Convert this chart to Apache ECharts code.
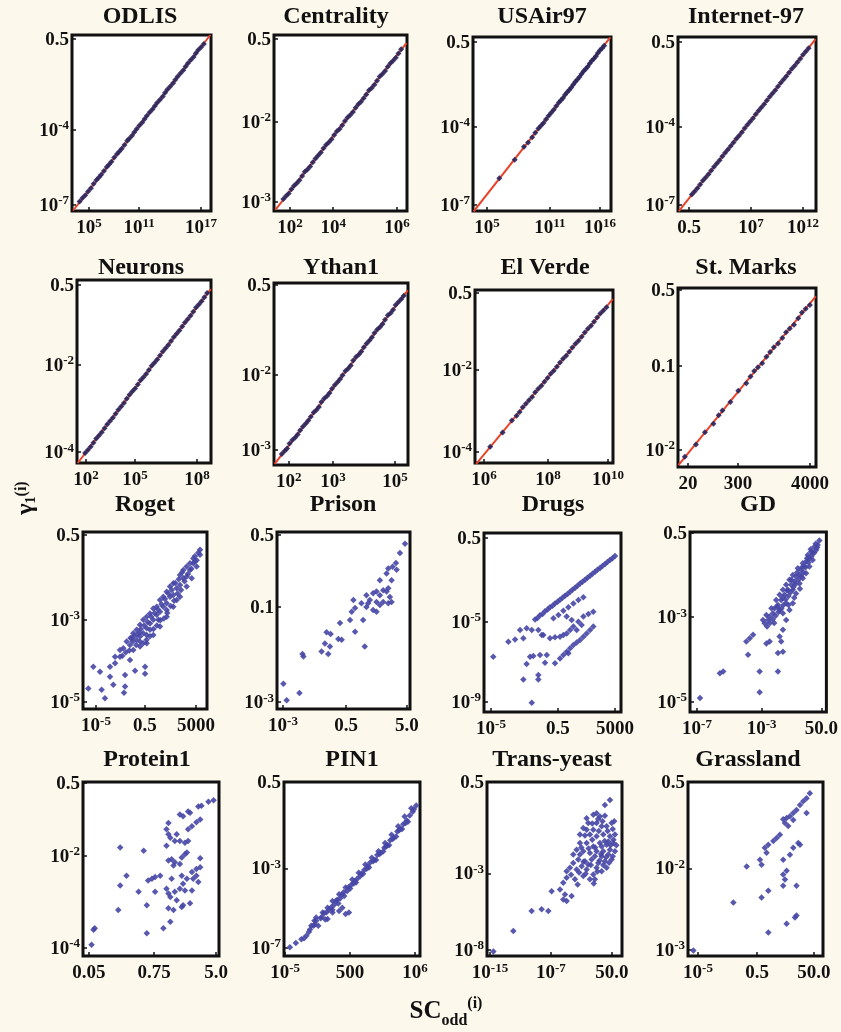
<!DOCTYPE html>
<html>
<head>
<meta charset="utf-8">
<script src="https://cdn.jsdelivr.net/npm/echarts/dist/echarts.min.js"></script>
<style>
html,body{margin:0;padding:0;background:#fcf9ec;}
#c{width:841px;height:1032px;}
</style>
</head>
<body>
<div id="c"></div>
<script>
// ---------- DATA (values are log10 of SC_odd(i) [x] and of gamma_1(i) [y]) ----------
const titles = ['ODLIS','Centrality','USAir97','Internet-97','Neurons','Ythan1','El Verde','St. Marks',
                'Roget','Prison','Drugs','GD','Protein1','PIN1','Trans-yeast','Grassland'];

// tick labels: [axis position, label]
const odlisXTicks = [[5,'10^5'],[10.36,'10^11'],[17,'10^17']];
const odlisYTicks = [[-7,'10^-7'],[-3.97,'10^-4'],[-0.3,'0.5']];
const centralityXTicks = [[2,'10^2'],[3.61,'10^4'],[6,'10^6']];
const centralityYTicks = [[-3,'10^-3'],[-1.675,'10^-2'],[-0.3,'0.5']];
const usairXTicks = [[5,'10^5'],[11.13,'10^11'],[16,'10^16']];
const usairYTicks = [[-7,'10^-7'],[-3.79,'10^-4'],[-0.3,'0.5']];
const internetXTicks = [[-0.3,'0.5'],[6.39,'10^7'],[12,'10^12']];
const internetYTicks = [[-7,'10^-7'],[-3.79,'10^-4'],[-0.3,'0.5']];
const neuronsXTicks = [[2,'10^2'],[4.65,'10^5'],[8,'10^8']];
const neuronsYTicks = [[-4,'10^-4'],[-2.07,'10^-2'],[-0.3,'0.5']];
const ythanXTicks = [[2,'10^2'],[3.25,'10^3'],[5,'10^5']];
const ythanYTicks = [[-3,'10^-3'],[-1.77,'10^-2'],[-0.3,'0.5']];
const elverdeXTicks = [[6,'10^6'],[8.06,'10^8'],[10,'10^10']];
const elverdeYTicks = [[-4,'10^-4'],[-2.09,'10^-2'],[-0.3,'0.5']];
const stmarksXTicks = [[1.301,'20'],[2.245,'300'],[3.602,'4000']];
const stmarksYTicks = [[-2,'10^-2'],[-1.109,'0.1'],[-0.301,'0.5']];
const rogetXTicks = [[-5,'10^-5'],[-0.74,'0.5'],[3.699,'5000']];
const rogetYTicks = [[-5,'10^-5'],[-2.69,'10^-3'],[-0.301,'0.5']];
const prisonXTicks = [[-3,'10^-3'],[-1.12,'0.5'],[0.699,'5.0']];
const prisonYTicks = [[-3,'10^-3'],[-1.465,'0.1'],[-0.301,'0.5']];
const drugsXTicks = [[-5,'10^-5'],[-0.3,'0.5'],[3.699,'5000']];
const drugsYTicks = [[-9,'10^-9'],[-4.76,'10^-5'],[-0.301,'0.5']];
const gdXTicks = [[-7,'10^-7'],[-2.48,'10^-3'],[1.699,'50.0']];
const gdYTicks = [[-5,'10^-5'],[-2.64,'10^-3'],[-0.301,'0.5']];
const protein1XTicks = [[-1.301,'0.05'],[-0.277,'0.75'],[0.699,'5.0']];
const protein1YTicks = [[-4,'10^-4'],[-1.94,'10^-2'],[-0.301,'0.5']];
const pin1XTicks = [[-5,'10^-5'],[0.5,'500'],[6,'10^6']];
const pin1YTicks = [[-7,'10^-7'],[-3.79,'10^-3'],[-0.301,'0.5']];
const transXTicks = [[-15,'10^-15'],[-6.66,'10^-7'],[1.699,'50.0']];
const transYTicks = [[-8,'10^-8'],[-4.49,'10^-3'],[-0.301,'0.5']];
const grassXTicks = [[-5,'10^-5'],[-1.59,'0.5'],[1.699,'50.0']];
const grassYTicks = [[-3,'10^-3'],[-1.69,'10^-2'],[-0.301,'0.5']];

// axis ranges [min,max]
const xRanges = [[3.18,18.07],[1.40,6.37],[3.64,17.07],[-1.49,13.40],[1.51,8.76],[1.58,5.37],[5.71,10.16],[1.112,3.715],
                 [-6.13,4.66],[-3.18,0.79],[-5.49,4.12],[-7.49,2.05],[-1.395,0.746],[-5.1,6.42],[-15.41,3.07],[-5.58,2.22]];
const yRanges = [[-7.24,-0.14],[-3.149,-0.234],[-7.25,-0.09],[-7.25,-0.09],[-4.24,-0.19],[-3.25,-0.27],[-4.26,-0.23],[-2.18,-0.28],
                 [-5.20,-0.217],[-3.11,-0.25],[-9.53,-0.036],[-5.28,-0.27],[-4.18,-0.28],[-7.32,-0.3],[-8.27,-0.3],[-3.10,-0.3]];

// fitted lines (top two rows)
const odlisFit = [[3.3,-7.22],[18.0,-0.14]];
const centralityFit = [[1.45,-3.13],[6.35,-0.37]];
const usairFit = [[3.7,-7.27],[17.0,-0.11]];
const internetFit = [[-1.4,-7.26],[13.35,-0.18]];
const neuronsFit = [[1.55,-4.24],[8.75,-0.39]];
const ythanFit = [[1.6,-3.23],[5.36,-0.39]];
const elverdeFit = [[5.75,-4.28],[10.15,-0.44]];
const stmarksFit = [[1.12,-2.16],[3.71,-0.37]];

const odlisPts = [[4.0,-6.86],[4.3,-6.72],[4.6,-6.60],[4.9,-6.45],[5.2,-6.32],[5.5,-6.14],[5.8,-5.99],[6.05,-5.89],[6.3,-5.78],[6.6,-5.63],[6.9,-5.46],[7.15,-5.36],[7.4,-5.25],[7.7,-5.08],[8.0,-4.94],[8.25,-4.84],[8.5,-4.73],[8.8,-4.58],[9.1,-4.41],[9.3,-4.33],[9.6,-4.20],[9.85,-4.06],[10.1,-3.93],[10.4,-3.79],[10.7,-3.67],[10.95,-3.53],[11.2,-3.40],[11.5,-3.26],[11.8,-3.14],[12.05,-3.00],[12.3,-2.87],[12.6,-2.75],[12.9,-2.62],[13.15,-2.47],[13.4,-2.34],[13.7,-2.22],[14.0,-2.09],[14.25,-1.95],[14.5,-1.81],[14.8,-1.68],[15.1,-1.56],[15.35,-1.41],[15.6,-1.28],[15.9,-1.15],[16.2,-1.03],[16.45,-0.88],[16.7,-0.75],[17.0,-0.63],[17.3,-0.50]];
const centralityPts = [[1.75,-2.95],[1.85,-2.90],[1.95,-2.86],[2.05,-2.79],[2.15,-2.73],[2.25,-2.69],[2.35,-2.64],[2.45,-2.57],[2.55,-2.50],[2.65,-2.46],[2.75,-2.41],[2.85,-2.34],[2.95,-2.28],[3.05,-2.23],[3.15,-2.18],[3.25,-2.11],[3.35,-2.05],[3.45,-2.01],[3.55,-1.96],[3.65,-1.89],[3.75,-1.83],[3.85,-1.79],[3.95,-1.73],[4.05,-1.66],[4.15,-1.60],[4.25,-1.56],[4.35,-1.51],[4.45,-1.44],[4.55,-1.38],[4.65,-1.34],[4.75,-1.28],[4.85,-1.22],[4.95,-1.15],[5.05,-1.11],[5.15,-1.06],[5.25,-0.99],[5.35,-0.92],[5.45,-0.88],[5.55,-0.83],[5.65,-0.76],[5.75,-0.70],[5.85,-0.66],[5.95,-0.61],[6.05,-0.54],[6.15,-0.47]];
const usairPts = [[6.2,-5.90],[7.7,-5.14],[8.6,-4.61],[9.0,-4.43],[9.4,-4.22],[9.7,-4.03],[10.0,-3.86],[10.25,-3.74],[10.5,-3.63],[10.75,-3.47],[11.0,-3.33],[11.25,-3.21],[11.5,-3.08],[11.75,-2.93],[12.0,-2.79],[12.2,-2.69],[12.4,-2.60],[12.6,-2.47],[12.8,-2.36],[13.0,-2.27],[13.2,-2.17],[13.4,-2.04],[13.6,-1.93],[13.8,-1.84],[14.0,-1.74],[14.2,-1.61],[14.4,-1.50],[14.6,-1.41],[14.8,-1.31],[15.0,-1.18],[15.2,-1.07],[15.4,-0.98],[15.6,-0.88],[15.8,-0.75],[16.0,-0.64],[16.2,-0.55],[16.4,-0.45]];
const internetPts = [[0.0,-6.57],[0.3,-6.45],[0.6,-6.31],[0.9,-6.16],[1.2,-6.00],[1.5,-5.87],[1.8,-5.74],[2.1,-5.58],[2.4,-5.43],[2.7,-5.30],[3.0,-5.16],[3.3,-5.00],[3.6,-4.85],[3.9,-4.72],[4.2,-4.58],[4.5,-4.43],[4.8,-4.28],[5.1,-4.15],[5.4,-4.01],[5.7,-3.85],[6.0,-3.70],[6.3,-3.57],[6.6,-3.43],[6.9,-3.27],[7.2,-3.12],[7.5,-2.99],[7.8,-2.86],[8.1,-2.70],[8.4,-2.55],[8.7,-2.42],[9.0,-2.28],[9.3,-2.13],[9.6,-1.97],[9.9,-1.84],[10.2,-1.70],[10.5,-1.55],[10.8,-1.40],[11.1,-1.27],[11.4,-1.13],[11.7,-0.98],[12.0,-0.82],[12.3,-0.69],[12.6,-0.55]];
const neuronsPts = [[1.95,-4.02],[2.1,-3.95],[2.25,-3.88],[2.4,-3.79],[2.55,-3.70],[2.7,-3.63],[2.85,-3.56],[3.0,-3.47],[3.15,-3.38],[3.3,-3.31],[3.45,-3.24],[3.6,-3.15],[3.75,-3.06],[3.9,-2.99],[4.05,-2.91],[4.2,-2.82],[4.35,-2.73],[4.5,-2.66],[4.65,-2.59],[4.8,-2.50],[4.95,-2.41],[5.1,-2.34],[5.25,-2.27],[5.4,-2.18],[5.55,-2.09],[5.7,-2.02],[5.85,-1.95],[6.0,-1.86],[6.15,-1.77],[6.3,-1.70],[6.45,-1.63],[6.6,-1.54],[6.75,-1.45],[6.9,-1.38],[7.05,-1.31],[7.2,-1.22],[7.35,-1.13],[7.5,-1.06],[7.65,-0.98],[7.8,-0.89],[7.95,-0.80],[8.1,-0.73],[8.25,-0.66],[8.4,-0.57],[8.55,-0.48]];
const ythanPts = [[1.8,-3.07],[1.88,-3.02],[1.95,-2.98],[2.02,-2.90],[2.1,-2.84],[2.18,-2.80],[2.25,-2.75],[2.32,-2.68],[2.4,-2.62],[2.48,-2.57],[2.55,-2.52],[2.62,-2.46],[2.7,-2.39],[2.78,-2.35],[2.85,-2.30],[2.92,-2.22],[3.0,-2.16],[3.08,-2.12],[3.15,-2.07],[3.22,-2.00],[3.3,-1.94],[3.38,-1.89],[3.45,-1.84],[3.52,-1.78],[3.6,-1.71],[3.68,-1.67],[3.75,-1.62],[3.82,-1.54],[3.9,-1.48],[3.98,-1.44],[4.05,-1.39],[4.12,-1.32],[4.2,-1.26],[4.28,-1.21],[4.35,-1.16],[4.42,-1.09],[4.5,-1.03],[4.58,-0.99],[4.65,-0.94],[4.72,-0.87],[4.8,-0.80],[4.88,-0.76],[4.95,-0.71],[5.02,-0.63],[5.1,-0.58],[5.18,-0.53],[5.25,-0.48]];
const elverdePts = [[6.2,-3.88],[6.6,-3.55],[6.9,-3.27],[7.05,-3.16],[7.15,-3.07],[7.25,-2.96],[7.35,-2.88],[7.45,-2.80],[7.55,-2.72],[7.65,-2.61],[7.75,-2.53],[7.85,-2.46],[7.95,-2.37],[8.05,-2.28],[8.15,-2.18],[8.25,-2.11],[8.35,-2.02],[8.45,-1.92],[8.55,-1.83],[8.65,-1.76],[8.75,-1.67],[8.85,-1.57],[8.95,-1.48],[9.05,-1.41],[9.15,-1.32],[9.25,-1.22],[9.35,-1.13],[9.45,-1.06],[9.55,-0.97],[9.65,-0.87],[9.75,-0.78],[9.85,-0.71],[9.95,-0.63]];
const stmarksPts = [[1.24,-2.07],[1.45,-1.94],[1.62,-1.81],[1.78,-1.72],[1.88,-1.63],[1.95,-1.58],[2.1,-1.49],[2.25,-1.37],[2.4,-1.29],[2.48,-1.22],[2.55,-1.16],[2.62,-1.12],[2.7,-1.08],[2.78,-1.01],[2.85,-0.96],[2.92,-0.91],[3.0,-0.87],[3.08,-0.81],[3.15,-0.75],[3.22,-0.71],[3.3,-0.67],[3.38,-0.60],[3.45,-0.54],[3.52,-0.50],[3.6,-0.46]];

const rogetPts = [[4.05,-0.72],[3.47,-0.96],[2.89,-1.19],[2.31,-1.43],[1.73,-1.66],[1.15,-1.90],[0.57,-2.13],[-0.01,-2.37],[-0.59,-2.60],[-1.17,-2.83],[-1.75,-3.07],[-2.33,-3.30],[-2.91,-3.54],[-3.34,-3.73],[-3.78,-4.01],
 [4.05,-0.86],[3.76,-1.19],[3.33,-1.52],[2.89,-1.75],[2.31,-2.04],[1.73,-2.32],[1.15,-2.60],[0.57,-2.88],[-0.01,-3.12],[-0.59,-3.35],[-1.17,-3.44],[-1.75,-3.54],
 [3.76,-1.01],[3.18,-1.29],[2.60,-1.52],[2.02,-1.80],[1.44,-2.04],[0.86,-2.32],[0.28,-2.55],[-0.30,-2.79],[-0.88,-3.07],[-1.46,-3.26],[-2.04,-3.40],[-2.62,-3.49],
 [2.89,-1.47],[2.31,-1.71],[1.73,-1.99],[1.15,-2.22],[0.57,-2.46],[-0.01,-2.69],[-0.59,-2.93],[-1.17,-3.16],[3.47,-1.10],[0.28,-2.32],[-0.30,-2.51],[-0.88,-2.69],[-1.46,-2.97],[-1.89,-3.21],
 [1.44,-1.75],[0.86,-2.04],[2.02,-2.13],[1.15,-2.41],[-0.30,-2.97],[0.43,-2.69],[2.60,-1.29],[3.18,-1.10],[-1.17,-3.30],[-0.59,-3.12],
 [3.9,-0.80],[3.6,-1.05],[3.3,-1.25],[3.0,-1.40],[2.7,-1.60],[2.4,-1.85],[2.1,-1.95],[1.8,-2.15],[1.5,-2.30],[1.2,-2.50],[0.9,-2.65],[0.6,-2.70],[0.3,-2.85],[0.0,-2.95],[-0.3,-3.15],[-0.6,-3.25],[-0.9,-3.35],[-1.2,-3.05],[-1.5,-3.40],[-1.8,-3.30],[-2.1,-3.55],[-2.4,-3.60],[-2.7,-3.70],
 [3.6,-0.90],[2.2,-1.55],[1.6,-1.85],[1.0,-2.10],[0.4,-2.40],[-0.2,-2.60],[-0.8,-2.85],[-1.4,-3.10],[-2.0,-3.20],[2.5,-1.35],[1.9,-1.65],[1.3,-1.95],[0.7,-2.25],[0.1,-2.50],[-0.5,-2.75],[-1.1,-2.95],[-1.7,-3.15],
 [-3.34,-3.91],[-2.47,-4.24],[-1.60,-4.12],[-0.73,-4.01],[-0.73,-4.21],[-3.78,-4.29],[-4.65,-4.15],[-5.23,-4.01],[-4.51,-4.66],[-3.49,-4.52],[-2.47,-4.57],[-5.67,-4.62],[-4.22,-4.90],[-2.56,-4.74],[-2.91,-3.73],[-2.04,-3.82]];
const prisonPts = [[0.64,-0.44],[0.49,-0.59],[0.37,-0.75],[0.27,-0.81],[0.14,-0.84],[0.39,-0.86],[0.09,-0.92],[0.24,-1.03],[-0.11,-1.03],[0.14,-1.16],[-0.01,-1.19],[-0.21,-1.21],[-0.31,-1.24],[-0.11,-1.27],[0.09,-1.21],[0.19,-1.30],[-0.51,-1.27],[0.24,-1.38],[0.14,-1.40],[-0.01,-1.38],[-0.21,-1.38],[-0.41,-1.35],[-0.46,-1.40],[-0.66,-1.40],[-0.90,-1.35],[-0.85,-1.48],[-0.95,-1.54],[-0.51,-1.46],[-0.31,-1.51],[-0.11,-1.43],[-0.21,-1.54],[-1.00,-1.67],[-1.30,-1.72],[-0.61,-1.67],[-1.58,-1.90],[-1.70,-1.87],[-0.85,-1.86],[-1.35,-1.98],[-1.25,-1.99],[-1.75,-2.05],[-1.60,-2.10],[-0.56,-2.10],[-1.85,-2.18],[-1.65,-2.22],[-2.42,-2.22],[-2.39,-2.26],[-2.99,-2.70],[-2.51,-2.85],[-2.89,-2.97]];
const drugsPts = [[-1.91,-4.62],[-1.56,-4.40],[-1.21,-4.19],[-0.86,-3.98],[-0.51,-3.77],[-0.16,-3.57],[0.19,-3.36],[0.55,-3.15],[0.90,-2.94],[1.25,-2.72],[1.60,-2.51],[1.95,-2.30],[2.30,-2.09],[2.65,-1.89],[3.00,-1.68],[3.35,-1.47],[3.70,-1.26],
 [-1.74,-4.55],[-1.38,-4.33],[-1.03,-4.10],[-0.68,-3.90],[-0.33,-3.68],[0.02,-3.47],[0.37,-3.27],[0.72,-3.05],[1.07,-2.84],[1.42,-2.62],[1.77,-2.41],[2.12,-2.20],[2.47,-1.99],[2.82,-1.78],[3.17,-1.58],[3.52,-1.37],
 [-0.62,-4.56],[-0.27,-4.39],[0.08,-4.16],[0.43,-3.98],[0.78,-3.77],[1.13,-3.59],[1.48,-3.45],
 [-0.86,-5.62],[-0.51,-5.57],[-0.16,-5.54],[0.31,-5.36],[0.55,-5.18],[0.78,-5.00],[1.13,-4.74],[1.48,-4.47],[1.83,-4.33],[2.18,-4.21],[0.08,-5.45],[1.01,-5.18],[1.36,-4.92],
 [-0.51,-6.95],[-0.16,-6.69],[0.08,-6.51],[0.31,-6.33],[0.55,-6.15],[0.78,-5.98],[1.01,-5.85],[1.25,-5.71],[1.48,-5.54],[1.71,-5.36],[1.95,-5.18],[2.18,-5.00],[0.43,-6.42],
 [-1.68,-5.18],[-1.44,-5.45],[-2.14,-5.18],[-2.50,-5.09],[-2.96,-5.18],[-2.73,-5.62],[-3.31,-5.68],[-3.78,-5.80],[-4.84,-6.60],[-2.26,-6.60],[-2.03,-6.56],[-1.56,-6.51],[-1.09,-6.51],[-1.21,-6.92],[-2.50,-6.99],[-2.73,-7.80],[-1.68,-7.57],[-1.68,-7.80],[-2.14,-9.04],[-1.33,-5.45],[0.31,-4.47],[0.66,-4.65]];
const gdPts = [[1.56,-0.51],[1.44,-0.63],[1.33,-0.77],[1.21,-0.68],[1.09,-0.86],[0.98,-0.82],[0.86,-1.00],[0.75,-0.91],[0.63,-1.09],[0.51,-1.23],[0.40,-1.14],[0.28,-1.33],[0.17,-1.47],[0.05,-1.28],[-0.07,-1.51],[-0.18,-1.65],[-0.30,-1.47],[-0.41,-1.74],[-0.53,-1.60],[-0.65,-1.88],[-0.76,-1.74],[-0.88,-2.02],[-0.99,-1.88],[-1.11,-2.16],[-1.22,-2.02],[-1.34,-2.30],[-1.46,-2.16],[-1.57,-2.39],[-1.69,-2.53],[-1.80,-2.39],[-1.92,-2.62],[-2.04,-2.72],[-2.15,-2.58],[-2.27,-2.81],[-2.39,-2.72],[0.63,-1.42],[0.17,-1.70],[-0.30,-1.88],[-0.76,-2.25],[-1.22,-2.44],[0.40,-1.56],[0.86,-1.23],[-0.53,-2.44],[-0.99,-2.53],[-0.76,-2.72],[-0.30,-2.25],[-0.07,-1.98],[1.09,-1.05],
 [1.4,-0.70],[1.2,-0.85],[1.0,-0.95],[0.8,-1.12],[0.6,-1.25],[0.45,-1.40],[0.3,-1.50],[0.1,-1.60],[-0.1,-1.72],[-0.25,-1.80],[-0.45,-1.95],[-0.6,-2.05],[-0.8,-2.15],[-0.95,-2.30],[-1.1,-2.40],[-1.3,-2.50],[-1.5,-2.60],[-1.7,-2.70],[-1.9,-2.80],[-2.1,-2.90],[1.3,-0.60],[0.95,-0.75],[0.7,-1.00],[0.35,-1.25],[0.0,-1.40],[-0.4,-1.60],[-0.7,-1.90],[-1.0,-2.10],[-1.4,-2.35],[-1.6,-2.80],[-0.6,-2.30],[-0.2,-2.10],[0.2,-1.85],
 [-0.99,-2.99],[-1.22,-3.18],[-1.11,-3.32],[-1.92,-3.32],[-2.15,-3.37],[-3.08,-3.13],[-3.31,-3.23],[-3.55,-3.32],[-3.43,-3.69],[-1.34,-3.64],[-0.99,-3.60],[-1.34,-4.15],[-2.62,-4.15],[-5.17,-4.15],[-5.40,-4.20],[-2.62,-4.73],[-6.79,-4.89]];
const protein1Pts = [[0.66,-0.69],[0.58,-0.72],[0.47,-0.81],[0.42,-0.83],[0.29,-0.97],[0.26,-0.94],[0.18,-1.05],[0.13,-1.01],[0.45,-1.12],[0.39,-1.18],[0.32,-1.27],[0.26,-1.34],[-0.05,-1.20],[-0.08,-1.34],[-0.05,-1.45],[-0.02,-1.53],[0.08,-1.45],[0.13,-1.60],[0.21,-1.64],[0.26,-1.60],[0.05,-1.60],[-0.08,-1.71],[0.00,-2.01],[0.05,-2.08],[-0.05,-2.04],[0.03,-2.15],[0.16,-1.97],[0.21,-1.90],[0.24,-1.86],[0.13,-2.12],[0.45,-1.99],[0.39,-2.23],[0.45,-2.19],[0.32,-2.30],[0.39,-2.38],[0.34,-2.45],[0.42,-2.52],[0.24,-2.45],[0.16,-2.38],[0.18,-2.56],[0.13,-2.67],[0.21,-2.71],[0.32,-2.71],[0.00,-2.45],[-0.08,-2.67],[-0.05,-2.78],[-0.02,-2.86],[0.05,-2.74],[0.08,-2.93],[0.16,-3.08],[0.18,-3.04],[0.29,-3.00],[0.03,-3.15],[-0.05,-3.11],[-0.02,-3.41],[-0.13,-3.56],[-0.18,-2.38],[-0.26,-2.41],[-0.31,-2.45],[-0.37,-2.49],[-0.81,-1.75],[-0.44,-1.82],[-0.71,-2.38],[-0.81,-2.60],[-0.52,-2.74],[-0.26,-2.74],[-0.39,-3.04],[-0.84,-3.15],[-0.39,-3.67],[-1.21,-3.56],[-1.23,-3.59],[-1.26,-3.93]];
const pin1Pts = [[-3.63,-6.64],[-2.79,-6.10],[-2.38,-5.90],[-1.82,-5.57],[-1.41,-5.37],[-0.99,-5.10],[-0.43,-4.83],[0.12,-4.56],[0.68,-4.23],[1.23,-3.96],[1.79,-3.63],[2.34,-3.36],[2.90,-3.09],[3.46,-2.76],[4.01,-2.43],[4.57,-2.09],[5.12,-1.69],[5.68,-1.36],
 [-3.20,-6.50],[-2.50,-6.05],[-2.00,-5.80],[-1.50,-5.55],[-1.10,-5.35],[-0.70,-5.10],[-0.20,-4.85],[0.35,-4.55],[0.90,-4.30],[1.45,-4.00],[2.00,-3.70],[2.55,-3.45],[3.10,-3.15],[3.65,-2.85],[4.20,-2.55],[4.75,-2.20],[5.30,-1.85],[5.80,-1.50],
 [-2.20,-6.10],[-1.60,-5.85],[-1.00,-5.45],[-0.50,-5.20],[0.00,-4.90],[0.50,-4.60],[1.00,-4.35],[1.60,-4.00],[2.10,-3.75],[2.70,-3.45],[3.30,-3.10],[3.80,-2.85],[4.40,-2.50],[4.90,-2.20],[5.40,-1.90],
 [-4.1,-6.80],[-3.4,-6.60],[-3.0,-6.35],[-2.6,-6.10],[-2.9,-6.25],[-1.9,-5.75],[-1.7,-5.60],[-1.3,-5.45],[-0.85,-5.25],[-0.6,-5.05],[-0.35,-5.00],[-0.05,-4.75],[0.25,-4.70],[0.6,-4.45],[0.8,-4.40],[1.1,-4.20],[1.35,-4.10],[1.7,-3.85],[1.9,-3.80],[2.2,-3.55],[2.45,-3.50],[2.8,-3.25],[3.0,-3.20],[3.4,-2.95],[3.55,-2.90],[3.9,-2.65],[4.1,-2.60],[4.5,-2.30],[4.65,-2.25],[5.0,-2.00],[5.2,-1.95],[5.55,-1.65],[5.9,-1.40],[6.1,-1.25],
 [-0.99,-5.57],[-0.43,-5.50],[-0.16,-5.37],[0.12,-5.63],[0.40,-5.57],[-1.41,-5.83],[-2.38,-5.77],[-2.52,-5.90],[-4.60,-6.97]];
const transPts = [[1.42,-1.12],[0.73,-1.35],[-0.86,-1.80],[-0.41,-1.73],[0.05,-1.88],[0.73,-1.85],[-1.77,-1.96],[1.65,-2.18],[0.96,-2.33],[0.28,-2.33],[-0.86,-2.49],[-1.77,-2.49],[-2.23,-2.41],[-2.69,-2.71],[-1.32,-2.71],[-0.41,-2.79],[0.50,-2.71],[1.42,-2.79],[2.10,-2.71],[1.87,-3.09],[0.96,-3.17],[0.05,-3.09],[-0.86,-3.25],[-1.77,-3.09],[-2.69,-3.09],[-3.14,-3.40],[-2.23,-3.47],[-1.32,-3.55],[-0.41,-3.47],[0.50,-3.47],[1.42,-3.40],[2.10,-3.47],[-2.92,-3.85],[-2.00,-3.93],[-1.09,-3.85],[-0.18,-4.01],[0.73,-3.93],[1.65,-3.85],[-3.60,-4.01],[-4.06,-4.23],[-4.51,-4.39],[-3.14,-4.31],[-1.77,-4.31],[-0.86,-4.54],[0.28,-4.39],[0.96,-4.23],[-2.23,-4.61],[-3.37,-4.76],[-4.51,-4.69],[-4.97,-4.92],[-5.42,-5.22],[-4.74,-5.45],[-3.83,-5.52],[-6.56,-5.30],[-4.97,-5.68],[-4.51,-5.75],[-9.30,-6.21],[-7.93,-6.13],[-7.02,-6.21],[-11.81,-7.12],[-14.54,-8.06],[-1.32,-4.76],[-0.64,-4.76],
 [-0.41,-2.18],[-1.55,-2.18],[1.19,-3.02],[0.28,-3.25],[-0.64,-3.70],[0.28,-3.70],[1.19,-3.62],[-1.55,-4.08],[-2.46,-4.16],[-0.41,-4.23],[-2.69,-3.62],[-3.60,-3.62],
 [-0.2,-2.00],[0.4,-2.10],[1.1,-2.55],[1.8,-2.45],[-1.0,-2.95],[-0.1,-2.55],[0.7,-3.00],[1.5,-3.20],[-2.0,-2.75],[-1.5,-3.35],[-0.6,-3.30],[0.2,-3.60],[0.9,-3.75],[1.8,-3.70],[-2.5,-3.30],[-1.2,-4.10],[-0.3,-4.40],[0.5,-4.10],[1.3,-4.00],[-2.8,-4.45],[-3.9,-4.55],[-1.9,-4.50],[-0.8,-4.95],[-3.0,-5.00],[-2.2,-3.95],[0.0,-3.90],[1.9,-2.95],[2.3,-3.20],[2.0,-2.10],[-1.0,-2.20]];
const grassPts = [[1.46,-0.48],[1.27,-0.56],[1.08,-0.61],[0.89,-0.67],[0.69,-0.75],[0.50,-0.80],[0.31,-0.85],[0.12,-0.88],[-0.08,-0.90],[0.02,-0.96],[1.27,-0.80],[0.50,-0.91],[0.21,-1.01],[-0.27,-1.15],[-0.46,-1.20],[-0.65,-1.25],[-0.94,-1.31],[-1.14,-1.36],[-1.04,-1.44],[-1.33,-1.63],[-1.42,-1.55],[-2.19,-1.66],[-2.96,-2.24],[-1.33,-2.16],[-0.94,-2.05],[-0.08,-1.55],[0.31,-1.47],[0.50,-1.36],[0.79,-1.28],[0.89,-1.31],[-0.08,-1.79],[0.12,-1.73],[0.02,-1.87],[-0.08,-1.97],[0.69,-1.97],[0.69,-2.45],[0.60,-2.48],[0.12,-2.58],[-0.94,-2.72],[-5.27,-3.01]];

// ---------- LAYOUT ----------
const boxes = [[72,35,139,176],[274,35,133,176],[473,37,138,174],[678,37,138,174],
               [77,280,134,183],[274,283,134,182],[475,290,138,173],[678,288,138,179],
               [83,532,124,177],[277,532,133,177],[484,533,137,179],[690,532,137,180],
               [83,782,136,174],[284,782,136,174],[487,782,135,174],[688,782,135,174]];
const titlePos = [[140,17],[336,17],[542,17],[746,17],[141,268],[341,268],[545,268],[746,268],
                  [145,505],[343,505],[553,505],[758,505],[147,760],[352,760],[552,760],[748,760]];

const ptsList = [odlisPts,centralityPts,usairPts,internetPts,neuronsPts,ythanPts,elverdePts,stmarksPts,
                 rogetPts,prisonPts,drugsPts,gdPts,protein1Pts,pin1Pts,transPts,grassPts];
const fitList = [odlisFit,centralityFit,usairFit,internetFit,neuronsFit,ythanFit,elverdeFit,stmarksFit];
const xTickList = [odlisXTicks,centralityXTicks,usairXTicks,internetXTicks,neuronsXTicks,ythanXTicks,elverdeXTicks,stmarksXTicks,
                   rogetXTicks,prisonXTicks,drugsXTicks,gdXTicks,protein1XTicks,pin1XTicks,transXTicks,grassXTicks];
const yTickList = [odlisYTicks,centralityYTicks,usairYTicks,internetYTicks,neuronsYTicks,ythanYTicks,elverdeYTicks,stmarksYTicks,
                   rogetYTicks,prisonYTicks,drugsYTicks,gdYTicks,protein1YTicks,pin1YTicks,transYTicks,grassYTicks];

const FONT = '"Liberation Serif", "Times New Roman", serif';
const rich = {
  b: {fontFamily: FONT, fontWeight: 'bold', fontSize: 19, color: '#111', verticalAlign: 'bottom', lineHeight: 21},
  s: {fontFamily: FONT, fontWeight: 'bold', fontSize: 13, color: '#111', verticalAlign: 'top', lineHeight: 21}
};
function fmt(s) {
  const m = /^10\^(.+)$/.exec(s);
  return m ? '{b|10}{s|' + m[1] + '}' : '{b|' + s + '}';
}
function labeler(ticks) {
  return function (v) {
    let best = ticks[0], d = Infinity;
    ticks.forEach(t => { const dd = Math.abs(t[0] - v); if (dd < d) { d = dd; best = t; } });
    return fmt(best[1]);
  };
}

const grid = [], xAxis = [], yAxis = [], series = [], graphic = [];
boxes.forEach((b, i) => {
  grid.push({left: b[0], top: b[1], width: b[2], height: b[3], show: true,
             backgroundColor: '#ffffff', borderColor: '#111', borderWidth: 3, containLabel: false});
  const xt = xTickList[i].map(t => t[0]);
  const yt = yTickList[i].map(t => t[0]);
  xAxis.push({gridIndex: i, type: 'value', min: xRanges[i][0], max: xRanges[i][1], position: 'bottom',
    axisLine: {show: false, onZero: false}, splitLine: {show: false},
    axisTick: {show: true, inside: true, length: 4, customValues: xt, lineStyle: {color: '#111', width: 1.5}},
    axisLabel: {customValues: xt, formatter: labeler(xTickList[i]), margin: 6, rich: rich, hideOverlap: false}});
  yAxis.push({gridIndex: i, type: 'value', min: yRanges[i][0], max: yRanges[i][1], position: 'left',
    axisLine: {show: false, onZero: false}, splitLine: {show: false},
    axisTick: {show: true, inside: true, length: 4, customValues: yt, lineStyle: {color: '#111', width: 1.5}},
    axisLabel: {customValues: yt, formatter: labeler(yTickList[i]), margin: 3, rich: rich, hideOverlap: false}});
  const diag = i < 8;
  if (diag) {
    series.push({type: 'line', xAxisIndex: i, yAxisIndex: i, data: fitList[i], symbol: 'none',
      lineStyle: {color: '#e8432a', width: 2}, silent: true, z: 2, animation: false});
  }
  series.push({type: 'scatter', xAxisIndex: i, yAxisIndex: i, data: ptsList[i],
    symbol: 'diamond', symbolSize: diag ? 6 : 6.5,
    itemStyle: {color: diag ? '#27235c' : '#4646a5', opacity: 0.9},
    z: 3, animation: false, silent: true});
  graphic.push({type: 'text', x: titlePos[i][0], y: titlePos[i][1],
    style: {text: titles[i], font: 'bold 24px ' + FONT, fill: '#111', align: 'center', verticalAlign: 'middle'}});
});

graphic.push({type: 'text', x: 26, y: 498, rotation: Math.PI / 2,
  style: {text: '{g|γ}{n|1}{p|(i)}', align: 'center', verticalAlign: 'middle',
    rich: {g: {font: 'bold 24px ' + FONT, fill: '#111', verticalAlign: 'bottom'},
           n: {font: 'bold 14px ' + FONT, fill: '#111', verticalAlign: 'bottom'},
           p: {font: 'bold 16px ' + FONT, fill: '#111', verticalAlign: 'top'}}}});
graphic.push({type: 'text', x: 446, y: 1010,
  style: {text: '{m|SC}{n|odd}{p|(i)}', align: 'center', verticalAlign: 'middle',
    rich: {m: {font: 'bold 25px ' + FONT, fill: '#111', verticalAlign: 'bottom', lineHeight: 28},
           n: {font: 'bold 16px ' + FONT, fill: '#111', verticalAlign: 'bottom', padding: [0, 0, -5, 0]},
           p: {font: 'bold 16px ' + FONT, fill: '#111', verticalAlign: 'top'}}}});

const chart = echarts.init(document.getElementById('c'), null, {renderer: 'canvas'});
chart.setOption({backgroundColor: '#fcf9ec', animation: false, grid, xAxis, yAxis, series, graphic});
</script>
</body>
</html>
